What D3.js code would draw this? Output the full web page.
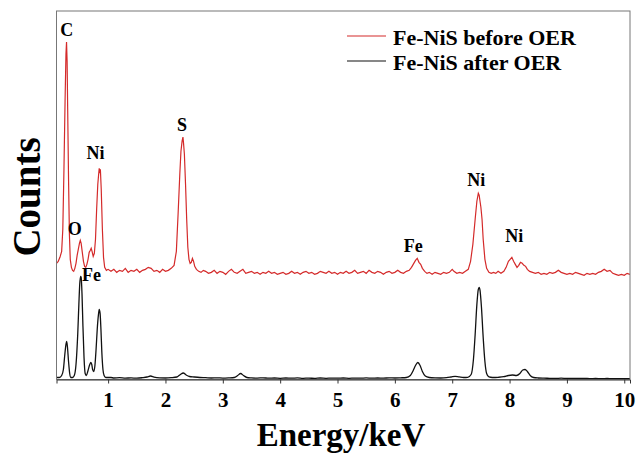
<!DOCTYPE html>
<html>
<head>
<meta charset="utf-8">
<script src="https://cdn.jsdelivr.net/npm/d3@7"></script>
<style>
  html, body { margin: 0; padding: 0; background: #fff; }
</style>
</head>
<body>
<svg id="chart" width="638" height="457"></svg>
<script>
// ---------------- DATA ----------------
const seriesNames = ["Fe-NiS before OER", "Fe-NiS after OER"];
const xTickValues = [1, 2, 3, 4, 5, 6, 7, 8, 9, 10];

// Fe-NiS before OER (red), energy keV / counts (a.u., offset trace)
const energyBefore = [
  0.10,0.13,0.16,0.19,0.21,0.23,0.25,0.265,0.275,0.285,0.295,0.31,0.325,0.34,0.36,0.38,0.40,0.42,0.44,0.46,
  0.48,0.50,0.515,0.53,0.55,0.57,0.59,0.61,0.63,0.65,0.67,0.69,0.705,0.72,0.74,0.76,0.78,0.80,0.82,0.835,
  0.845,0.855,0.865,0.88,0.90,0.92,0.94,0.97,1.00,
  1.05,1.10,1.15,1.20,1.25,1.30,1.35,1.40,1.45,1.50,1.55,1.60,1.65,1.70,1.75,1.80,1.85,1.90,1.95,2.00,2.05,2.10,
  2.15,2.19,2.22,2.25,2.27,2.29,2.305,2.315,2.33,2.35,2.37,2.39,2.41,2.43,2.45,2.47,2.49,2.51,2.54,2.58,2.62,2.66,
  2.70,2.75,2.80,2.85,2.90,2.95,3.00,3.05,3.10,3.15,3.20,3.25,3.30,3.35,3.40,3.45,3.50,3.55,3.60,3.65,
  3.70,3.75,3.80,3.85,3.90,3.95,4.00,4.05,4.10,4.15,4.20,4.25,4.30,4.35,4.40,4.45,4.50,4.55,4.60,4.65,
  4.70,4.75,4.80,4.85,4.90,4.95,5.00,5.05,5.10,5.15,5.20,5.25,5.30,5.35,5.40,5.45,5.50,5.55,5.60,5.65,
  5.70,5.75,5.80,5.85,5.90,5.95,6.00,6.05,6.10,6.15,6.20,6.25,6.29,6.33,6.36,6.39,6.42,6.45,6.48,6.52,
  6.56,6.60,6.65,6.70,6.75,6.80,6.85,6.90,6.95,7.00,7.03,7.08,7.13,7.18,7.23,7.28,7.32,7.36,7.40,7.43,
  7.455,7.47,7.485,7.50,7.52,7.54,7.57,7.60,7.64,7.68,7.72,7.76,7.80,7.85,7.90,7.94,7.98,8.01,8.04,8.07,
  8.10,8.13,8.16,8.19,8.22,8.25,8.28,8.31,8.35,8.40,8.45,8.50,8.55,8.60,8.65,8.70,8.75,8.80,8.85,8.90,
  8.95,9.00,9.05,9.10,9.15,9.20,9.25,9.30,9.35,9.40,9.45,9.50,9.55,9.60,9.65,9.70,9.75,9.80,9.85,9.90,
  9.95,10.00,10.05,10.10
];
const countsBefore = [
  116,118,122,128,150,210,280,325,337,318,270,200,145,120,112,109,108,111,116,124,
  130,136,139,136,127,118,113,112,115,120,127,129,131,128,123,126,140,170,195,205,
  211,206,210,190,150,122,112,109,110,
  108,110,107,109,108,111,107,109,108,110,107,109,110,112,111,108,109,107,110,108,109,111,
  114,128,165,205,228,238,242,236,225,195,160,132,120,116,117,121,118,113,110,108,107,109,
  108,106,107,109,106,108,107,105,108,110,107,106,108,110,106,107,108,106,107,105,
  107,106,108,106,107,105,106,107,105,106,108,106,107,105,107,108,106,107,105,106,
  108,107,106,108,106,107,105,107,106,108,106,107,109,106,107,108,106,109,107,106,
  108,107,105,107,108,106,107,109,107,106,108,109,112,116,119,121,117,115,111,108,
  106,107,105,107,106,105,107,106,107,110,108,106,107,106,108,110,118,135,160,178,
  186,184,178,172,160,140,120,111,107,106,107,106,108,106,108,112,118,120,122,118,
  115,112,114,117,116,114,113,110,108,107,106,107,105,106,105,107,106,107,109,107,
  106,105,106,105,107,106,105,104,106,105,106,105,107,108,110,108,109,106,105,104,
  105,104,106,105
];

// Fe-NiS after OER (black)
const energyAfter = [
  0.10,0.15,0.19,0.22,0.245,0.265,0.277,0.29,0.31,0.33,0.35,0.38,0.41,0.44,0.47,0.49,0.505,0.52,0.53,0.545,
  0.56,0.58,0.60,0.62,0.65,0.68,0.70,0.715,0.73,0.75,0.77,0.79,0.81,0.83,0.845,0.86,0.875,0.89,0.91,0.93,
  0.96,1.00,1.05,1.10,1.20,1.30,1.40,1.50,1.60,1.68,1.74,1.80,1.90,2.00,2.10,2.20,2.26,2.31,2.36,2.42,
  2.50,2.60,2.70,2.80,2.90,3.00,3.10,3.20,3.26,3.31,3.36,3.42,3.50,3.60,3.70,3.80,3.90,4.00,4.10,4.20,
  4.30,4.40,4.50,4.60,4.70,4.80,4.90,5.00,5.10,5.20,5.30,5.40,5.50,5.60,5.70,5.80,5.90,6.00,6.10,6.20,
  6.27,6.32,6.36,6.40,6.44,6.48,6.53,6.60,6.70,6.80,6.90,6.98,7.05,7.12,7.20,7.27,7.33,7.37,7.40,7.43,
  7.455,7.47,7.485,7.51,7.54,7.57,7.60,7.64,7.70,7.80,7.90,7.98,8.05,8.12,8.18,8.23,8.27,8.31,8.36,8.42,
  8.50,8.60,8.70,8.80,8.90,9.00,9.10,9.20,9.30,9.40,9.50,9.60,9.70,9.80,9.90,10.00,10.10
];
const countsAfter = [
  2,2,4,10,25,35,38,33,18,6,2,2,4,15,45,75,95,103,102,85,
  55,22,6,4,9,15,17,15,10,8,14,30,50,64,70,66,50,28,10,4,
  2,2,2,1.5,1.8,1.4,1.6,1.3,1.8,2.5,3.5,2.4,1.6,1.5,1.8,2.5,5,6.5,4.5,3,
  2.5,2,1.8,1.5,1.7,1.4,1.6,2,4,6,4,2,1.6,1.4,1.7,1.3,1.5,1.2,1.5,1.3,
  1.6,1.2,1.4,1.1,1.5,1.2,1.4,1.3,1.5,1.2,1.4,1.3,1.6,1.3,1.5,1.4,1.6,1.5,1.7,2,
  4,9,14,17,14,8,3.5,2,1.6,1.5,1.8,2.5,3.2,2.6,2,2.2,5,20,45,75,
  90,92,89,72,42,18,6,2.5,2,2.2,2.8,4,4.5,4,6,9.5,10,8,4,2,
  1.5,1.3,1.2,1.1,1.3,1,1.2,1,1.1,0.9,1,0.9,1,0.8,0.9,0.8,0.9
];

// peak labels
const peakLabels = ["C", "Ni", "S", "O", "Fe", "Fe", "Ni", "Ni"];
const peakEnergies = [0.28, 0.78, 2.29, 0.42, 0.71, 6.32, 7.42, 8.08];
const peakCounts = [343, 220, 248, 144, 98, 127, 193, 137];

// ---------------- CHART ----------------
const W = 638, H = 457;
const FONT = '"Liberation Serif", "Times New Roman", Times, serif';
const margin = { left: 56.5, right: 8, top: 11, bottom: 77.5 };
const svg = d3.select("#chart");
svg.append("rect").attr("width", W).attr("height", H).attr("fill", "#fff");

const x = d3.scaleLinear().domain([0.1, 10.1]).range([margin.left, W - margin.right]);
const y = d3.scaleLinear().domain([0, 368]).range([H - margin.bottom, margin.top]);

svg.append("defs").append("clipPath").attr("id", "clip")
  .append("rect")
  .attr("x", margin.left).attr("y", margin.top)
  .attr("width", W - margin.right - margin.left)
  .attr("height", H - margin.bottom - margin.top);

const before = energyBefore.map((e, i) => [e, countsBefore[i]]);
const after = energyAfter.map((e, i) => [e, countsAfter[i]]);

const lineLin = d3.line().x(d => x(d[0])).y(d => y(d[1]));
const lineSmooth = d3.line().x(d => x(d[0])).y(d => y(d[1])).curve(d3.curveMonotoneX);

const plot = svg.append("g").attr("clip-path", "url(#clip)");
plot.append("path").datum(after).attr("d", lineSmooth)
  .attr("fill", "none").attr("stroke", "#111").attr("stroke-width", 1.3);
plot.append("path").datum(before).attr("d", lineLin)
  .attr("fill", "none").attr("stroke", "#d42a2a").attr("stroke-width", 1.2);

// frame
svg.append("rect")
  .attr("x", margin.left).attr("y", margin.top)
  .attr("width", W - margin.right - margin.left)
  .attr("height", H - margin.bottom - margin.top)
  .attr("fill", "none").attr("stroke", "#777").attr("stroke-width", 1);

// x axis
const xAxis = d3.axisBottom(x).tickValues(xTickValues).tickSize(4).tickPadding(9).tickFormat(d3.format("d"));
const gx = svg.append("g").attr("transform", `translate(0,${H - margin.bottom})`).call(xAxis)
  .attr("font-family", FONT);
gx.select(".domain").attr("stroke", "#333");
gx.selectAll(".tick line").attr("stroke", "#333");
gx.selectAll("text").attr("font-size", 21).attr("fill", "#000")
  .attr("font-family", FONT).attr("font-weight", "bold");

function addText(sel) {
  return sel.append("text").attr("font-family", FONT).attr("font-weight", "bold").attr("fill", "#000");
}

// axis titles
addText(svg).attr("x", 341).attr("y", 446).attr("text-anchor", "middle")
  .attr("font-size", 33).text("Energy/keV");
addText(svg).attr("transform", "translate(40,197) rotate(-90)").attr("text-anchor", "middle")
  .attr("font-size", 39).text("Counts");

// peak labels
svg.append("g").selectAll("text").data(peakLabels).join("text")
  .attr("font-family", FONT).attr("font-weight", "bold").attr("fill", "#000")
  .attr("x", (d, i) => x(peakEnergies[i]))
  .attr("y", (d, i) => y(peakCounts[i]))
  .attr("text-anchor", "middle").attr("font-size", 18)
  .text(d => d);

// legend
const legendColors = ["#d42a2a", "#111"];
const lg = svg.append("g");
seriesNames.forEach((n, i) => {
  const yy = 36 + i * 25;
  lg.append("line").attr("x1", 347).attr("x2", 386).attr("y1", yy).attr("y2", yy)
    .attr("stroke", legendColors[i]).attr("stroke-width", 1.2);
  addText(lg).attr("x", 393).attr("y", yy + 9).attr("font-size", 22).text(n);
});
</script>
</body>
</html>
